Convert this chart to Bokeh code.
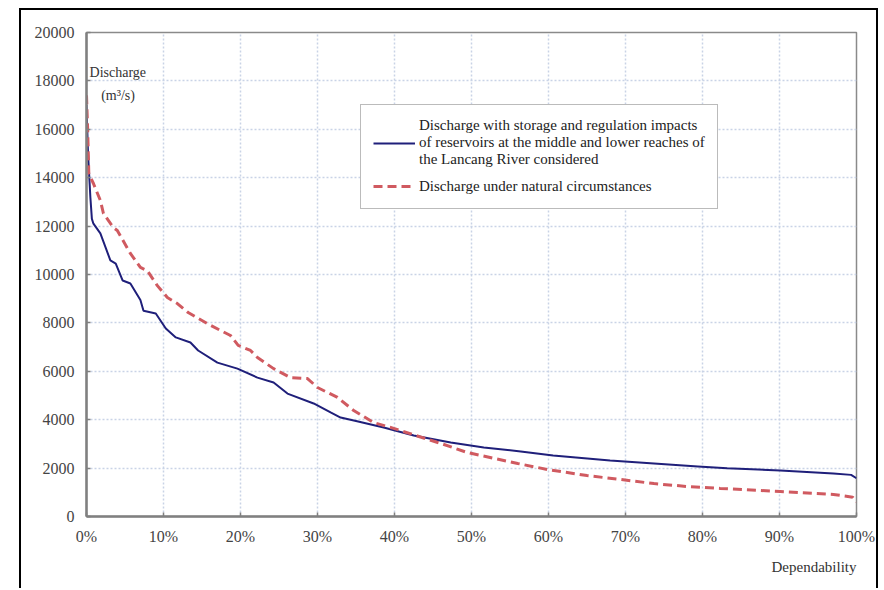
from bokeh.plotting import figure
from bokeh.models import (Range1d, FixedTicker, PrintfTickFormatter, Legend, LegendItem, Label, Title)
from bokeh.embed import file_html
from bokeh.resources import INLINE

# Regulated discharge (with reservoirs)
dep_reg = [0, 0.2, 0.5, 0.7, 0.9, 1.8, 2.5, 3.1, 3.8, 4.7, 5.7, 7.0, 7.4, 9.0, 10.3,
           11.6, 13.5, 14.5, 17.0, 19.6, 22.2, 24.3, 26.1, 29.5, 31.7, 33.0, 35.0, 38.6,
           42.5, 47.3, 51.6, 56.4, 60.6, 68.0, 73.7, 79.4, 83.2, 90.1, 97.0, 99.3, 100]
dis_reg = [17000, 15000, 13200, 12300, 12100, 11700, 11100, 10580, 10450, 9750, 9630,
           8950, 8500, 8390, 7770, 7400, 7190, 6860, 6360, 6110, 5740, 5540, 5080, 4670,
           4300, 4090, 3950, 3680, 3350, 3060, 2850, 2690, 2520, 2310, 2190, 2070, 1990,
           1900, 1780, 1720, 1580]

# Natural discharge
dep_nat = [0, 0.15, 0.3, 0.9, 1.8, 2.2, 3.5, 4.0, 5.7, 7.0, 7.9, 9.2, 10.5, 11.8, 13.2,
           15.7, 17.4, 18.7, 19.7, 21.3, 22.2, 24.3, 26.5, 28.7, 30.0, 32.6, 34.7, 37.3,
           39.9, 46.0, 49.5, 56.0, 59.9, 65.0, 69.4, 73.7, 78.0, 82.3, 90.1, 97.0, 99.5, 100]
dis_nat = [17400, 16000, 14170, 13760, 13060, 12520, 11940, 11820, 10870, 10290, 10160,
           9540, 9050, 8800, 8430, 7970, 7690, 7480, 7070, 6860, 6570, 6110, 5740, 5700,
           5330, 4920, 4380, 3880, 3640, 3020, 2640, 2190, 1940, 1690, 1530, 1360, 1240,
           1160, 1030, 910, 800, 600]

x_ticks = [0, 10, 20, 30, 40, 50, 60, 70, 80, 90, 100]
y_ticks = [0, 2000, 4000, 6000, 8000, 10000, 12000, 14000, 16000, 18000, 20000]

label_reg = ("Discharge with storage and regulation impacts\n"
             "of reservoirs at the middle and lower reaches of\n"
             "the Lancang River considered")
label_nat = "Discharge under natural circumstances"

SERIF = "Liberation Serif"

p = figure(width=859, height=580, output_backend="svg", toolbar_location=None,
           x_range=Range1d(0, 100), y_range=Range1d(0, 20000),
           min_border_left=65, min_border_right=24, min_border_top=22, min_border_bottom=74,
           background_fill_color="white", border_fill_color="white")
p.margin = (8, 0, 0, 19)
p.styles = {"border-left": "2px solid black", "border-top": "2px solid black",
            "border-right": "2px solid black"}

p.outline_line_color = "#8a8a8a"
p.outline_line_width = 1.5

for ax in (p.xaxis[0], p.yaxis[0]):
    ax.axis_line_color = "#808080"
    ax.axis_line_width = 2.5
    ax.major_tick_line_color = "#808080"
    ax.major_tick_line_width = 1.5
    ax.major_tick_in = 4
    ax.major_tick_out = 0
    ax.minor_tick_line_color = None
    ax.major_label_text_font = SERIF
    ax.major_label_text_font_size = "16px"
    ax.major_label_text_color = "#444444"

p.xaxis.ticker = FixedTicker(ticks=x_ticks)
p.yaxis.ticker = FixedTicker(ticks=y_ticks)
p.xaxis.formatter = PrintfTickFormatter(format="%d%%")
p.xaxis.major_label_standoff = 11
p.yaxis.major_label_standoff = 12

p.grid.grid_line_color = "#c9d3e6"
p.grid.grid_line_dash = "2 2"
p.grid.grid_line_width = 1.5

r_reg = p.line(dep_reg, dis_reg, line_color="#1f1f7a", line_width=2)
r_nat = p.line(dep_nat, dis_nat, line_color="#d05a60", line_width=3, line_dash="9 5")

legend = Legend(items=[LegendItem(label=label_reg, renderers=[r_reg]),
                       LegendItem(label=label_nat, renderers=[r_nat])],
                location=(274, 307))
legend.label_text_font = SERIF
legend.label_text_font_size = "15px"
legend.label_text_color = "#222222"
legend.label_text_line_height = 1.07
legend.glyph_width = 42
legend.label_standoff = 4
legend.padding = 12
legend.spacing = 8
legend.border_line_color = "#777777"
legend.border_line_width = 1.5
legend.background_fill_alpha = 1.0
p.add_layout(legend, "center")

p.add_layout(Label(x=0.4, y=18347, text="Discharge", text_font=SERIF,
                   text_font_size="14px", text_color="#333333", text_baseline="middle"))
p.add_layout(Label(x=1.9, y=17397, text="(m³/s)", text_font=SERIF,
                   text_font_size="14px", text_color="#333333", text_baseline="middle"))

t = Title(text="Dependability", align="right", text_font=SERIF, text_font_size="15px",
          text_font_style="normal", text_color="#333333", standoff=19)
p.add_layout(t, "below")

open("out.html", "w").write(file_html(p, INLINE))
